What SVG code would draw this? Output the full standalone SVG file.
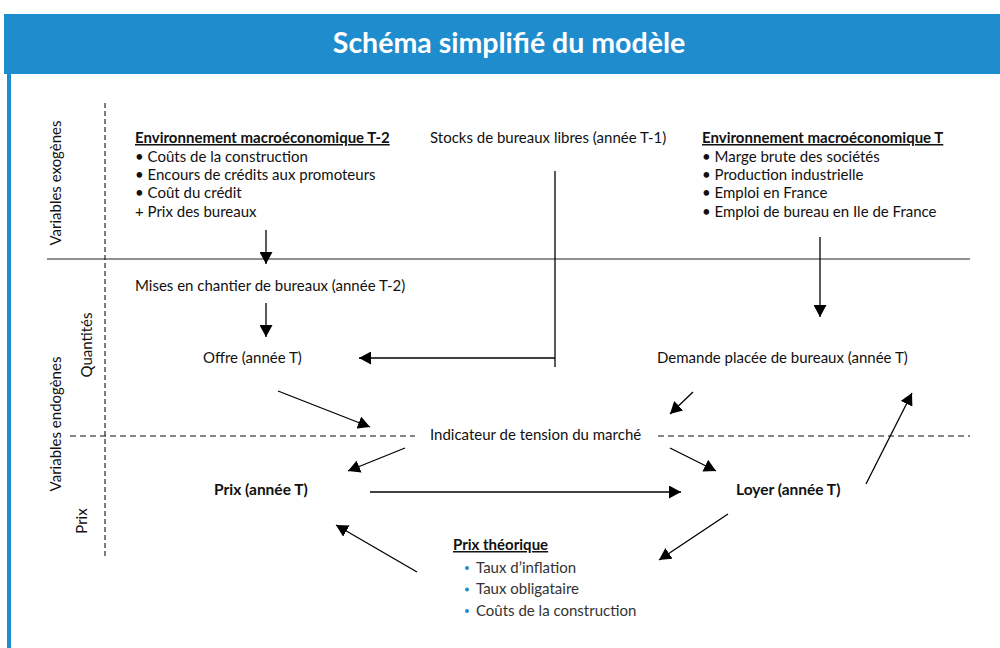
<svg xmlns="http://www.w3.org/2000/svg" width="1000" height="648" viewBox="0 0 1000 648">
  <defs>
    <marker id="arrow" markerUnits="userSpaceOnUse" markerWidth="13" markerHeight="13" refX="12" refY="6.5" orient="auto">
      <path d="M0,0 L12,6.5 L0,13 z" fill="#000"/>
    </marker>
    <style>
      text { font-family: Lato, "Liberation Sans", sans-serif; font-size: 15px; fill: #111; }
      .title { font-size: 28.5px; font-weight: bold; fill: #fff; }
      .bold { font-weight: bold; }
      .big { font-size: 15.5px; }
      .ul { text-decoration: underline; }
      .grey { fill: #333; }
      .dot { fill: #1f8ccd; }
      .axis { stroke: #222; stroke-width: 1.2; fill: none; }
      .dash { stroke: #111; stroke-width: 1.2; stroke-dasharray: 6 4; fill: none; }
      .vdash { stroke: #111; stroke-width: 1.1; stroke-dasharray: 5 3; fill: none; }
      .link { stroke: #000; stroke-width: 1.3; fill: none; }
      .arrow { stroke: #000; stroke-width: 1.3; fill: none; marker-end: url(#arrow); }
    </style>
  </defs>

  <rect width="1000" height="648" fill="#fff"/>

  <!-- title banner and left rule -->
  <g id="banner">
    <rect x="4" y="14" width="996" height="60" fill="#1f8ccd"/>
    <rect x="7" y="74" width="4" height="574" fill="#1f8ccd"/>
    <text class="title" x="509" y="53" text-anchor="middle">Schéma simplifié du modèle</text>
  </g>

  <!-- frame: axes and zone separators -->
  <g id="frame">
    <line class="axis" x1="47" y1="259" x2="970" y2="259"/>
    <line class="vdash" x1="105" y1="103" x2="105" y2="556"/>
    <line class="dash" x1="70" y1="436" x2="415" y2="436"/>
    <line class="dash" x1="658" y1="436" x2="970" y2="436"/>
    <text transform="translate(61,183) rotate(-90)" text-anchor="middle">Variables exogènes</text>
    <text transform="translate(61,424) rotate(-90)" text-anchor="middle">Variables endogènes</text>
    <text transform="translate(92,345) rotate(-90)" text-anchor="middle">Quantités</text>
    <text transform="translate(87,521) rotate(-90)" text-anchor="middle">Prix</text>
  </g>

  <!-- connectors -->
  <g id="connectors">
    <line class="arrow" x1="266" y1="230" x2="266" y2="264"/>
    <line class="link" x1="555" y1="171" x2="555" y2="367"/>
    <line class="arrow" x1="555" y1="358" x2="359" y2="358"/>
    <line class="arrow" x1="820" y1="237" x2="820" y2="317"/>
    <line class="arrow" x1="266" y1="303" x2="266" y2="337"/>
    <line class="arrow" x1="278" y1="391" x2="370" y2="427"/>
    <line class="arrow" x1="693" y1="392" x2="670" y2="414"/>
    <line class="arrow" x1="405" y1="448" x2="348" y2="471"/>
    <line class="arrow" x1="670" y1="448" x2="716" y2="471"/>
    <line class="arrow" x1="370" y1="492" x2="681" y2="492"/>
    <line class="arrow" x1="866" y1="484" x2="912" y2="393"/>
    <line class="arrow" x1="728" y1="514" x2="659" y2="560"/>
    <line class="arrow" x1="417" y1="572" x2="336" y2="525"/>
  </g>

  <g id="macro-t2">
    <text class="bold ul" x="135" y="143">Environnement macroéconomique T-2</text>
    <text x="135" y="162">• Coûts de la construction</text>
    <text x="135" y="180">• Encours de crédits aux promoteurs</text>
    <text x="135" y="198">• Coût du crédit</text>
    <text x="135" y="217">+ Prix des bureaux</text>
  </g>

  <g id="stocks">
    <text x="430" y="143">Stocks de bureaux libres (année T-1)</text>
  </g>

  <g id="macro-t">
    <text class="bold ul" x="702" y="143">Environnement macroéconomique T</text>
    <text x="702" y="162">• Marge brute des sociétés</text>
    <text x="702" y="180">• Production industrielle</text>
    <text x="702" y="198">• Emploi en France</text>
    <text x="702" y="217">• Emploi de bureau en Ile de France</text>
  </g>

  <g id="mises-en-chantier">
    <text x="135" y="291">Mises en chantier de bureaux (année T-2)</text>
  </g>

  <g id="offre">
    <text x="203" y="363">Offre (année T)</text>
  </g>

  <g id="demande">
    <text x="657" y="363">Demande placée de bureaux (année T)</text>
  </g>

  <g id="indicateur">
    <text x="430" y="440">Indicateur de tension du marché</text>
  </g>

  <g id="prix">
    <text class="bold big" x="214" y="495">Prix (année T)</text>
  </g>

  <g id="loyer">
    <text class="bold big" x="736" y="495">Loyer (année T)</text>
  </g>

  <g id="prix-theorique">
    <text class="bold ul" x="453" y="550">Prix théorique</text>
    <circle class="dot" cx="467" cy="568" r="2"/>
    <circle class="dot" cx="467" cy="589.5" r="2"/>
    <circle class="dot" cx="467" cy="611" r="2"/>
    <text class="grey" x="476" y="573">Taux d’inflation</text>
    <text class="grey" x="476" y="594">Taux obligataire</text>
    <text class="grey" x="476" y="616">Coûts de la construction</text>
  </g>
</svg>
